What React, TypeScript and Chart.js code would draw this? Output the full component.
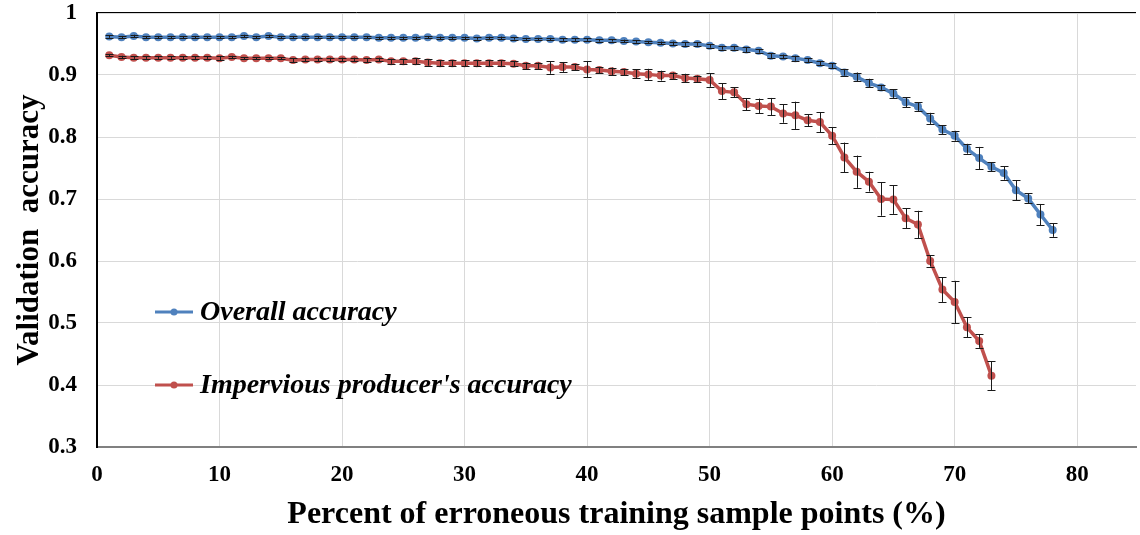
import React, { useEffect, useRef } from "react";
import { Chart, registerables } from "chart.js";

Chart.register(...registerables);

const FONT = "'Liberation Serif', 'Times New Roman', Times, serif";

const xOverall = [
  1, 2, 3, 4, 5, 6, 7, 8, 9, 10, 11, 12, 13, 14, 15, 16, 17, 18, 19, 20,
  21, 22, 23, 24, 25, 26, 27, 28, 29, 30, 31, 32, 33, 34, 35, 36, 37, 38, 39, 40,
  41, 42, 43, 44, 45, 46, 47, 48, 49, 50, 51, 52, 53, 54, 55, 56, 57, 58, 59, 60,
  61, 62, 63, 64, 65, 66, 67, 68, 69, 70, 71, 72, 73, 74, 75, 76, 77, 78,
];
const overallAccuracy = [
  0.962, 0.961, 0.963, 0.961, 0.961, 0.961, 0.961, 0.961, 0.961, 0.961,
  0.961, 0.963, 0.961, 0.963, 0.961, 0.961, 0.961, 0.961, 0.961, 0.961,
  0.961, 0.961, 0.960, 0.960, 0.960, 0.960, 0.961, 0.960, 0.960, 0.960,
  0.959, 0.960, 0.960, 0.959, 0.958, 0.958, 0.958, 0.957, 0.957, 0.957,
  0.956, 0.956, 0.955, 0.954, 0.953, 0.952, 0.951, 0.950, 0.950, 0.947,
  0.944, 0.944, 0.941, 0.939, 0.931, 0.930, 0.927, 0.924, 0.919, 0.915,
  0.904, 0.897, 0.887, 0.880, 0.870, 0.856, 0.849, 0.830, 0.812, 0.802,
  0.781, 0.766, 0.752, 0.742, 0.714, 0.701, 0.675, 0.650,
];
const overallError = [
  0.002, 0.002, 0.002, 0.002, 0.002, 0.002, 0.002, 0.002, 0.002, 0.002,
  0.002, 0.002, 0.002, 0.002, 0.002, 0.002, 0.002, 0.002, 0.002, 0.002,
  0.002, 0.002, 0.002, 0.002, 0.002, 0.002, 0.002, 0.002, 0.002, 0.002,
  0.002, 0.002, 0.002, 0.002, 0.002, 0.002, 0.002, 0.002, 0.002, 0.002,
  0.002, 0.002, 0.002, 0.002, 0.002, 0.002, 0.003, 0.003, 0.003, 0.003,
  0.003, 0.003, 0.004, 0.003, 0.004, 0.003, 0.004, 0.003, 0.003, 0.004,
  0.005, 0.007, 0.007, 0.004, 0.007, 0.008, 0.007, 0.009, 0.007, 0.008,
  0.008, 0.018, 0.007, 0.011, 0.016, 0.008, 0.017, 0.011,
];

const xImpervious = [
  1, 2, 3, 4, 5, 6, 7, 8, 9, 10, 11, 12, 13, 14, 15, 16, 17, 18, 19, 20,
  21, 22, 23, 24, 25, 26, 27, 28, 29, 30, 31, 32, 33, 34, 35, 36, 37, 38, 39, 40,
  41, 42, 43, 44, 45, 46, 47, 48, 49, 50, 51, 52, 53, 54, 55, 56, 57, 58, 59, 60,
  61, 62, 63, 64, 65, 66, 67, 68, 69, 70, 71, 72, 73,
];
const imperviousAccuracy = [
  0.932, 0.929, 0.928, 0.928, 0.928, 0.928, 0.928, 0.928, 0.928, 0.927,
  0.929, 0.927, 0.927, 0.927, 0.927, 0.924, 0.925, 0.925, 0.925, 0.925,
  0.925, 0.924, 0.925, 0.922, 0.922, 0.922, 0.920, 0.919, 0.919, 0.919,
  0.919, 0.919, 0.919, 0.918, 0.915, 0.915, 0.912, 0.913, 0.913, 0.909,
  0.908, 0.906, 0.905, 0.902, 0.901, 0.899, 0.899, 0.895, 0.894, 0.892,
  0.874, 0.872, 0.853, 0.850, 0.849, 0.838, 0.835, 0.827, 0.824, 0.802,
  0.767, 0.744, 0.728, 0.700, 0.699, 0.669, 0.659, 0.600, 0.554, 0.534,
  0.493, 0.471, 0.415,
];
const imperviousError = [
  0.002, 0.002, 0.002, 0.002, 0.002, 0.002, 0.002, 0.002, 0.002, 0.003,
  0.002, 0.002, 0.002, 0.002, 0.002, 0.003, 0.003, 0.003, 0.003, 0.003,
  0.003, 0.003, 0.003, 0.004, 0.004, 0.005, 0.005, 0.005, 0.005, 0.005,
  0.005, 0.005, 0.005, 0.004, 0.005, 0.005, 0.010, 0.008, 0.005, 0.013,
  0.005, 0.006, 0.005, 0.007, 0.009, 0.008, 0.005, 0.007, 0.005, 0.011,
  0.013, 0.008, 0.0095, 0.012, 0.014, 0.015, 0.022, 0.010, 0.016, 0.014,
  0.024, 0.026, 0.016, 0.027, 0.023, 0.016, 0.022, 0.009, 0.020, 0.034,
  0.016, 0.011, 0.0235,
];

const xTicks = [0, 10, 20, 30, 40, 50, 60, 70, 80];
const yTicks = [0.3, 0.4, 0.5, 0.6, 0.7, 0.8, 0.9, 1];

const seriesNames = ["Overall accuracy", "Impervious producer's accuracy"];
const seriesColors = ["#4F81BD", "#C0504D"];

const errorBarPlugin = {
  id: "errorBars",
  afterDatasetsDraw(chart: any) {
    const { ctx } = chart;
    const xs = chart.scales.x;
    const ys = chart.scales.y;
    const groups: [number[], number[], number[]][] = [
      [xOverall, overallAccuracy, overallError],
      [xImpervious, imperviousAccuracy, imperviousError],
    ];
    ctx.save();
    ctx.strokeStyle = "#1a1a1a";
    ctx.lineWidth = 1;
    for (const [xv, yv, ev] of groups) {
      for (let i = 0; i < xv.length; i++) {
        const px = Math.round(xs.getPixelForValue(xv[i])) + 0.5;
        const top = ys.getPixelForValue(yv[i] + ev[i]);
        const bot = ys.getPixelForValue(yv[i] - ev[i]);
        ctx.beginPath();
        ctx.moveTo(px, top);
        ctx.lineTo(px, bot);
        ctx.moveTo(px - 4, Math.round(top) + 0.5);
        ctx.lineTo(px + 4, Math.round(top) + 0.5);
        ctx.moveTo(px - 4, Math.round(bot) + 0.5);
        ctx.lineTo(px + 4, Math.round(bot) + 0.5);
        ctx.stroke();
      }
    }
    ctx.restore();
  },
};

const framePlugin = {
  id: "frame",
  afterDraw(chart: any) {
    const { ctx, chartArea } = chart;
    ctx.save();
    ctx.strokeStyle = "#000";
    ctx.lineWidth = 1;
    ctx.beginPath();
    ctx.moveTo(chartArea.left, Math.round(chartArea.top) - 0.5);
    ctx.lineTo(chartArea.right, Math.round(chartArea.top) - 0.5);
    ctx.stroke();

    // legend inside the plot
    const lx = chartArea.left + 58;
    const rows = [chartArea.top + 299, chartArea.top + 372];
    rows.forEach((ly, i) => {
      ctx.strokeStyle = seriesColors[i];
      ctx.fillStyle = seriesColors[i];
      ctx.lineWidth = 3;
      ctx.beginPath();
      ctx.moveTo(lx, ly);
      ctx.lineTo(lx + 38, ly);
      ctx.stroke();
      ctx.beginPath();
      ctx.arc(lx + 19, ly, 3.5, 0, Math.PI * 2);
      ctx.fill();
      ctx.fillStyle = "#000";
      ctx.font = `italic bold 28px ${FONT}`;
      ctx.textBaseline = "middle";
      ctx.textAlign = "left";
      ctx.fillText(seriesNames[i], lx + 45, ly + 1);
    });
    ctx.restore();
  },
};

export default function App() {
  const canvasRef = useRef<HTMLCanvasElement | null>(null);

  useEffect(() => {
    document.body.style.margin = "0";
    const canvas = canvasRef.current;
    if (!canvas) return;
    const chart = new Chart(canvas, {
      type: "line",
      data: {
        datasets: [
          {
            label: seriesNames[0],
            data: xOverall.map((x, i) => ({ x, y: overallAccuracy[i] })),
            borderColor: seriesColors[0],
            backgroundColor: seriesColors[0],
            pointBackgroundColor: seriesColors[0],
            borderWidth: 3.5,
            pointRadius: 4,
            pointBorderWidth: 0,
            tension: 0,
          },
          {
            label: seriesNames[1],
            data: xImpervious.map((x, i) => ({ x, y: imperviousAccuracy[i] })),
            borderColor: seriesColors[1],
            backgroundColor: seriesColors[1],
            pointBackgroundColor: seriesColors[1],
            borderWidth: 3.5,
            pointRadius: 4,
            pointBorderWidth: 0,
            tension: 0,
          },
        ],
      },
      options: {
        animation: false,
        responsive: false,
        maintainAspectRatio: false,
        layout: { padding: { top: 13, right: 0, bottom: 0, left: 0 } },
        plugins: {
          legend: { display: false },
          tooltip: { enabled: false },
        },
        scales: {
          x: {
            type: "linear",
            min: 0,
            max: 84.8,
            afterBuildTicks: (s: any) => {
              s.ticks = xTicks.map((v) => ({ value: v }));
            },
            afterFit: (s: any) => {
              s.height = 88;
              s.paddingLeft = 0;
              s.paddingRight = 0;
            },
            grid: { color: "#d9d9d9", lineWidth: 1, drawTicks: false },
            border: { color: "#808080", width: 2 },
            ticks: {
              padding: 14,
              color: "#000",
              autoSkip: false,
              maxRotation: 0,
              font: { family: FONT, size: 23, weight: "bold" },
              callback: (v: any) => String(v),
            },
            title: {
              display: true,
              text: "Percent of erroneous training sample points (%)",
              color: "#000",
              font: { family: FONT, size: 32, weight: "bold" },
              padding: { top: 0, bottom: 1 },
            },
          },
          y: {
            type: "linear",
            min: 0.3,
            max: 1,
            afterBuildTicks: (s: any) => {
              s.ticks = yTicks.map((v) => ({ value: v }));
            },
            afterFit: (s: any) => {
              s.width = 97;
              s.paddingTop = 0;
              s.paddingBottom = 0;
            },
            grid: { color: "#d9d9d9", lineWidth: 1, drawTicks: false },
            border: { color: "#000", width: 2 },
            ticks: {
              padding: 20,
              color: "#000",
              font: { family: FONT, size: 23, weight: "bold" },
              callback: (v: any) => String(Math.round(Number(v) * 10) / 10),
            },
            title: {
              display: true,
              text: "Validation  accuracy",
              color: "#000",
              font: { family: FONT, size: 31, weight: "bold" },
              padding: { top: 11, bottom: 0 },
            },
          },
        },
      },
      plugins: [errorBarPlugin, framePlugin],
    } as any);
    return () => chart.destroy();
  }, []);

  return (
    <div style={{ position: "absolute", left: 0, top: 0, width: 1140, height: 535, background: "#fff" }}>
      <canvas ref={canvasRef} width={1140} height={535} style={{ display: "block", width: 1140, height: 535 }} />
    </div>
  );
}
